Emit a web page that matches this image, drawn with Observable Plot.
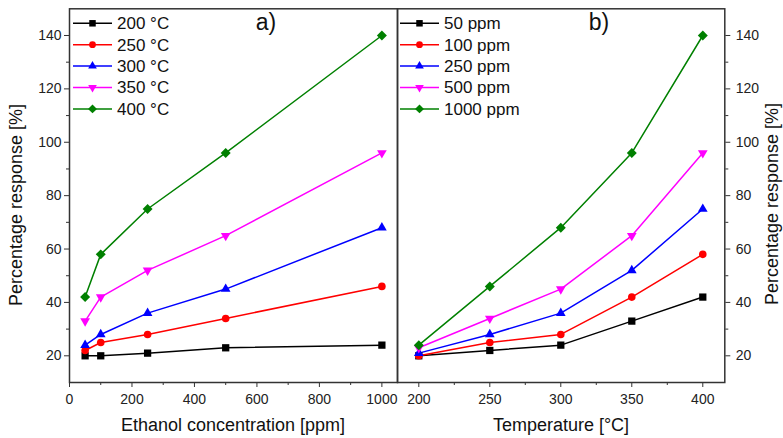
<!DOCTYPE html>
<html><head><meta charset="utf-8">
<script src="https://cdn.jsdelivr.net/npm/d3@7"></script>
<script src="https://cdn.jsdelivr.net/npm/@observablehq/plot@0.6"></script>
<style>
body{margin:0;background:#fff}
#chart{position:relative;width:783px;height:438px;font-family:"Liberation Sans",Arial,sans-serif}
#chart > svg{position:absolute;top:0;overflow:visible;background:transparent;max-width:none}
</style></head><body><div id="chart"></div>
<script>
// ---- data ----
const concentrations = [50, 100, 250, 500, 1000];
const temperatures = [200, 250, 300, 350, 400];
const seriesA = ["200 °C", "250 °C", "300 °C", "350 °C", "400 °C"];
const valuesA = [
  [20, 20, 21, 23, 24],
  [22, 25, 28, 34, 46],
  [24, 28, 36, 45, 68],
  [33, 42, 52, 65, 96],
  [42, 58, 75, 96, 140]
];
const seriesB = ["50 ppm", "100 ppm", "250 ppm", "500 ppm", "1000 ppm"];
const valuesB = [
  [20, 22, 24, 33, 42],
  [20, 25, 28, 42, 58],
  [21, 28, 36, 52, 75],
  [23, 34, 45, 65, 96],
  [24, 46, 68, 96, 140]
];
const yMajor = [20, 40, 60, 80, 100, 120, 140];
const yMinor = [30, 50, 70, 90, 110, 130];
const xMajorA = [0, 200, 400, 600, 800, 1000];
const xMinorA = [100, 300, 500, 700, 900];
const xMajorB = [200, 250, 300, 350, 400];
const xMinorB = [225, 275, 325, 375];
const titleA = "Ethanol concentration [ppm]";
const titleB = "Temperature [°C]";
const titleY = "Percentage response [%]";

// ---- styles ----
const colors = ["#000000", "#ff0000", "#0000ff", "#ff00ff", "#008000"];
const invTriangle = {
  draw(ctx, size) {
    const y = -Math.sqrt(size / (Math.sqrt(3) * 3));
    ctx.moveTo(0, -y * 2);
    ctx.lineTo(-Math.sqrt(3) * y, y);
    ctx.lineTo(Math.sqrt(3) * y, y);
    ctx.closePath();
  }
};
const symbols = ["square", "circle", "triangle", invTriangle, "diamond2"];
const d3symbols = [d3.symbolSquare, d3.symbolCircle, d3.symbolTriangle, invTriangle, d3.symbolDiamond2];
const radii = [4.1, 3.8, 3.6, 3.6, 4.5];
const axisColor = "#333";
const FONT = '"Liberation Sans", Arial, sans-serif';
const plain = d => String(d);

function rows(xs, values, names) {
  return names.map((n, i) => xs.map((x, j) => ({x, y: values[i][j], s: n})));
}

function seriesMarks(data) {
  const marks = [];
  data.forEach((d, i) => {
    marks.push(Plot.line(d, {x: "x", y: "y", stroke: colors[i], strokeWidth: 1.5}));
  });
  data.forEach((d, i) => {
    marks.push(Plot.dot(d, {x: "x", y: "y", fill: colors[i], stroke: "none", symbol: symbols[i], r: radii[i]}));
  });
  return marks;
}

const common = {
  height: 438, marginTop: 8.3, marginBottom: 56,
  y: {domain: [10, 150]},
  style: {fontFamily: FONT, fontSize: "14px", color: "#222", background: "transparent", overflow: "visible"}
};

const left = Plot.plot({
  ...common,
  width: 397, marginLeft: 69, marginRight: 0,
  x: {domain: [0, 1050]},
  marks: [
    Plot.axisY({ticks: yMajor, tickSize: 5, tickPadding: 3, fontSize: 14, tickFormat: plain, label: null, stroke: axisColor}),
    Plot.axisY({ticks: yMinor, tickSize: 3, tickFormat: () => "", label: null, stroke: axisColor}),
    Plot.axisX({ticks: xMajorA, tickSize: 5, tickPadding: 7, fontSize: 14, tickFormat: plain, label: null, stroke: axisColor}),
    Plot.axisX({ticks: xMinorA, tickSize: 3, tickFormat: () => "", label: null, stroke: axisColor}),
    Plot.frame({stroke: axisColor, strokeWidth: 1.5}),
    ...seriesMarks(rows(concentrations, valuesA, seriesA))
  ]
});
left.style.left = "0px";

const right = Plot.plot({
  ...common,
  width: 386, marginLeft: 0, marginRight: 58.7,
  x: {domain: [185, 415.5]},
  marks: [
    Plot.axisY({anchor: "right", ticks: yMajor, tickSize: 5, tickPadding: 6, fontSize: 14, tickFormat: plain, label: null, stroke: axisColor}),
    Plot.axisY({anchor: "right", ticks: yMinor, tickSize: 3, tickFormat: () => "", label: null, stroke: axisColor}),
    Plot.axisX({ticks: xMajorB, tickSize: 5, tickPadding: 7, fontSize: 14, tickFormat: plain, label: null, stroke: axisColor}),
    Plot.axisX({ticks: xMinorB, tickSize: 3, tickFormat: () => "", label: null, stroke: axisColor}),
    Plot.frame({stroke: axisColor, strokeWidth: 1.5}),
    ...seriesMarks(rows(temperatures, valuesB, seriesB))
  ]
});
right.style.left = "397px";

const chart = document.getElementById("chart");
chart.appendChild(left);
chart.appendChild(right);

// ---- overlay: titles, panel labels, legends ----
const ov = d3.select(chart).append("svg")
  .attr("width", 783).attr("height", 438)
  .style("position", "absolute").style("left", "0px").style("top", "0px")
  .style("font-family", FONT).style("overflow", "visible");

ov.append("text").attr("x", 233).attr("y", 431).attr("text-anchor", "middle")
  .attr("font-size", 18).attr("fill", "#111").text(titleA);
ov.append("text").attr("x", 561).attr("y", 431).attr("text-anchor", "middle")
  .attr("font-size", 18).attr("fill", "#111").text(titleB);
ov.append("text").attr("transform", "translate(22,205) rotate(-90)").attr("text-anchor", "middle")
  .attr("font-size", 18).attr("fill", "#111").text(titleY);
ov.append("text").attr("transform", "translate(778,204) rotate(-90)").attr("text-anchor", "middle")
  .attr("font-size", 18).attr("fill", "#111").text(titleY);
ov.append("text").attr("x", 266).attr("y", 30).attr("text-anchor", "middle")
  .attr("font-size", 23).attr("fill", "#111").text("a)");
ov.append("text").attr("x", 599).attr("y", 30).attr("text-anchor", "middle")
  .attr("font-size", 23).attr("fill", "#111").text("b)");

function legend(x0, names) {
  names.forEach((n, i) => {
    const y = 23.3 + i * 21.4;
    const g = ov.append("g");
    g.append("line").attr("x1", x0).attr("x2", x0 + 39).attr("y1", y).attr("y2", y)
      .attr("stroke", colors[i]).attr("stroke-width", 1.5);
    g.append("path").attr("transform", `translate(${x0 + 19.5},${y})`)
      .attr("d", d3.symbol(d3symbols[i], radii[i] * radii[i] * Math.PI * 0.8)())
      .attr("fill", colors[i]);
    g.append("text").attr("x", x0 + 44).attr("y", y).attr("dy", "0.35em")
      .attr("font-size", 17).attr("fill", "#111").text(n);
  });
}
legend(73, seriesA);
legend(400, seriesB);
</script></body></html>
